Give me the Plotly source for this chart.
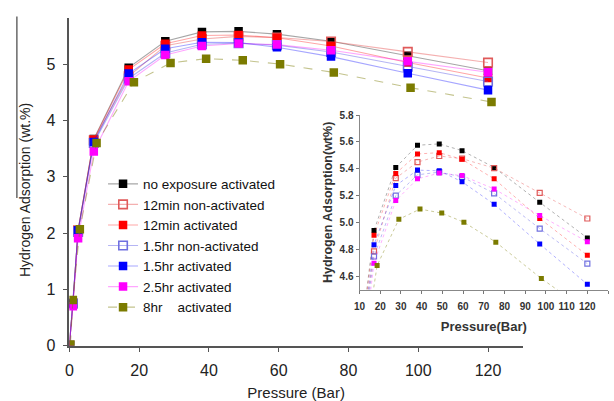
import plotly.graph_objects as go

W, H = 614, 401

# ---------------- data ----------------
pressure = [0, 1, 2.5, 7, 17, 27.5, 38, 48.5, 59.5, 75, 97, 120]
pressure_olive = [0.3, 1, 3, 7.8, 18.5, 29, 39.2, 49.7, 60.4, 75.8, 97.8, 121]

names = ["no exposure activated", "12min non-activated", "12min activated",
         "1.5hr non-activated", "1.5hr activated", "2.5hr activated",
         "8hr    activated"]

no_exposure_act = [0, 0.75, 2.05, 3.67, 4.94, 5.41, 5.575, 5.585, 5.535, 5.41, 5.15, 4.885]
min12_nonact    = [0, 0.75, 2.05, 3.65, 4.785, 5.33, 5.45, 5.495, 5.475, 5.405, 5.22, 5.03]
min12_act       = [0, 0.75, 2.05, 3.66, 4.905, 5.365, 5.51, 5.52, 5.47, 5.325, 5.03, 4.756]
hr15_nonact     = [0, 0.75, 2.02, 3.60, 4.747, 5.20, 5.355, 5.375, 5.34, 5.217, 4.955, 4.694]
hr15_act        = [0, 0.75, 2.05, 3.62, 4.835, 5.275, 5.39, 5.385, 5.303, 5.136, 4.84, 4.54]
hr25_act        = [0, 0.70, 1.91, 3.45, 4.697, 5.163, 5.325, 5.368, 5.349, 5.25, 5.052, 4.857]
hr8_act         = [0.02, 0.81, 2.07, 3.60, 4.68, 5.024, 5.10, 5.07, 5.002, 4.854, 4.583, 4.33]

series = [no_exposure_act, min12_nonact, min12_act, hr15_nonact, hr15_act, hr25_act, hr8_act]

main_y_ticks = [0, 1, 2, 3, 4, 5]
main_x_ticks = [0, 20, 40, 60, 80, 100, 120]
inset_y_ticks = [4.6, 4.8, 5.0, 5.2, 5.4, 5.6, 5.8]
inset_x_ticks = list(range(10, 131, 10))

# ---------------- styles ----------------
styles = [
    dict(c="#000000", lc="rgba(0,0,0,0.35)", open=False, dash="solid"),
    dict(c="#e05a5a", lc="rgba(230,80,80,0.45)", open=True, dash="solid"),
    dict(c="#ff0000", lc="rgba(255,0,0,0.35)", open=False, dash="solid"),
    dict(c="#7070e0", lc="rgba(90,90,230,0.45)", open=True, dash="solid"),
    dict(c="#0000ff", lc="rgba(0,0,255,0.35)", open=False, dash="solid"),
    dict(c="#ff00ff", lc="rgba(255,0,255,0.35)", open=False, dash="solid"),
    dict(c="#7b7b00", lc="rgba(123,123,0,0.45)", open=False, dash="dash"),
]

fig = go.Figure()

for i, (nm, ys, st) in enumerate(zip(names, series, styles)):
    xs = pressure_olive if i == 6 else pressure
    if st["open"]:
        mk = dict(symbol="square-open", size=8.5, color=st["c"], line=dict(width=1.6, color=st["c"]))
        mk2 = dict(symbol="square-open", size=5, color=st["c"], line=dict(width=1.2, color=st["c"]))
    else:
        mk = dict(symbol="square", size=8.5, color=st["c"], line=dict(width=0))
        mk2 = dict(symbol="square", size=5, color=st["c"], line=dict(width=0))
    fig.add_trace(go.Scatter(
        x=xs, y=ys, name=nm, mode="lines+markers",
        line=dict(color=st["lc"], width=1.1, dash=st["dash"]),
        marker=mk, xaxis="x", yaxis="y", showlegend=True,
    ))
    fig.add_trace(go.Scatter(
        x=xs, y=ys, name=nm, mode="lines+markers",
        line=dict(color=st["lc"], width=0.9, dash="dot"),
        marker=mk2, xaxis="x2", yaxis="y2", showlegend=False,
    ))

font_main = "Liberation Sans, Arial, sans-serif"
axcol = "#555555"

fig.update_layout(
    width=W, height=H,
    margin=dict(l=0, r=0, t=0, b=0),
    paper_bgcolor="white", plot_bgcolor="rgba(0,0,0,0)",
    font=dict(family=font_main, color="#222222"),
    xaxis=dict(
        domain=[64 / W, 522 / W], range=[0, 130],
        tickvals=main_x_ticks, ticks="outside", ticklen=5, tickwidth=1.3, tickcolor=axcol,
        ticklabelstandoff=4,
        showline=True, linecolor=axcol, linewidth=1.6, showgrid=False, zeroline=False,
        tickfont=dict(size=16, color="#222"),
        title=dict(text="Pressure (Bar)", font=dict(size=15, color="#222"), standoff=11),
        anchor="y",
    ),
    yaxis=dict(
        domain=[(H - 353) / H, (H - 13) / H], range=[0, 5.83],
        tickvals=main_y_ticks, ticks="outside", ticklen=5, tickwidth=1.3, tickcolor=axcol,
        ticklabelstandoff=4,
        showline=True, linecolor=axcol, linewidth=1.6, showgrid=False, zeroline=False,
        tickfont=dict(size=16, color="#222"),
        anchor="x",
    ),
    xaxis2=dict(
        domain=[357 / W, 608 / W], range=[10, 130],
        tickvals=inset_x_ticks, ticks="outside", ticklen=3, tickwidth=1, tickcolor="#777",
        ticklabelstandoff=4,
        showline=True, linecolor="#888", linewidth=1, showgrid=False, zeroline=False,
        tickfont=dict(size=10, color="#333", family=font_main, weight="bold"),
        title=dict(text="<b>Pressure(Bar)</b>", font=dict(size=13, color="#333"), standoff=11),
        anchor="y2",
    ),
    yaxis2=dict(
        domain=[(H - 295) / H, (H - 114) / H], range=[4.5, 5.8],
        tickvals=inset_y_ticks, tickformat=".1f", ticks="outside", ticklen=3, tickwidth=1, tickcolor="#777",
        showline=True, linecolor="#888", linewidth=1, showgrid=False, zeroline=False,
        tickfont=dict(size=10, color="#333", family=font_main, weight="bold"),
        title=dict(text="<b>Hydrogen Adsorption(wt%)</b>", font=dict(size=12.5, color="#333"), standoff=4),
        anchor="x2",
    ),
    legend=dict(
        x=98 / W, y=(H - 169.5) / H, xanchor="left", yanchor="top",
        bgcolor="rgba(0,0,0,0)", font=dict(size=13.5, color="#111", family=font_main),
        itemwidth=30, tracegroupgap=0,
    ),
    annotations=[dict(text="Hydrogen Adsorption (wt.%)", textangle=-90,
                      xref="paper", yref="paper", x=19 / W, y=(H - 192) / H,
                      xanchor="center", yanchor="middle", showarrow=False,
                      font=dict(size=14, color="#222", family=font_main))],
    shapes=[dict(type="line", xref="paper", yref="paper",
                 x0=11 / W, x1=11 / W, y0=(H - 12) / H, y1=(H - 200) / H,
                 line=dict(color="#444", width=1.2))],
)

fig.write_html("out.html")
